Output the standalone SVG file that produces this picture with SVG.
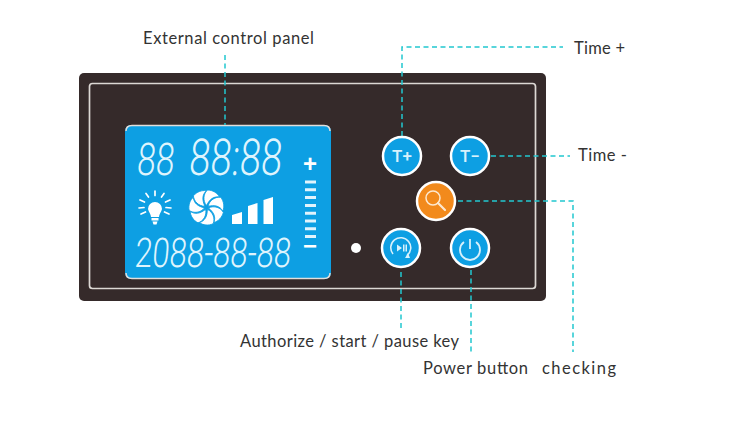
<svg xmlns="http://www.w3.org/2000/svg" width="750" height="424" viewBox="0 0 750 424">
<style>
text{font-family:"Lato","Liberation Sans",sans-serif}
.lbl{font-size:16.5px;fill:#333;lengthAdjust:spacing}
.c{fill:none;stroke:#22c8d0;stroke-width:1.5;stroke-dasharray:5 3.500}
.btn{stroke:#fff;stroke-width:2.500;fill:#0d9fe3}
.seg{font-family:"Roboto","Liberation Sans",sans-serif;fill:#dff4fd;font-weight:300}
.ico{font-family:"Roboto","Liberation Sans",sans-serif;fill:#d8f1fc;font-weight:500;font-size:17px;text-anchor:middle}
.w{fill:#fff}
.g{fill:none;stroke:#fff;stroke-linecap:round}
.sym{font-family:"Liberation Sans",sans-serif;font-size:24px;font-weight:700;fill:#fff;text-anchor:middle}
</style>
<defs>
<path id="blade" d="M0 -2C-4 -7-3 -14 1 -17.500C6 -17.500 11 -14.500 13 -10.500C7 -11.500 3 -8 0 -2z" fill="#fff" stroke="#0d9fe3" stroke-width="0.800"/>
</defs>
<rect width="750" height="424" fill="#fff"/>
<g id="panel">
<rect x="79" y="73" width="467" height="228" rx="5" fill="#352a2a"/>
<rect x="89.500" y="83.500" width="446" height="205" rx="3" fill="none" stroke="#dcd8d4" stroke-width="1.700"/>
</g>
<g id="lcd">
<rect x="125" y="125" width="206" height="154" rx="6" fill="#0d9fe3"/>
<path d="M126 131Q126 125.500 132 125.500H324Q330 125.500 330 131M126 273Q126 278.500 132 278.500H324Q330 278.500 330 273" fill="none" stroke="#e2dedb" stroke-width="1.500"/>
<text class="seg" transform="translate(136 175) skewX(-5) scale(.75 1)" font-size="45">88</text>
<text class="seg" transform="translate(188 175) skewX(-5) scale(.75 1)" font-size="51">88:88</text>
<text class="seg" transform="translate(134 267) skewX(-5) scale(.76 1)" font-size="41">2088-88-88</text>
<text class="sym" x="310" y="172">+</text>
<text class="sym" x="310" y="254">−</text>
<path d="M305 182h11M305 189.800h11M305 197.600h11M305 205.400h11M305 213.200h11M305 221h11M305 228.800h11M305 236.600h11" stroke="#fff" stroke-width="3" opacity="0.880" fill="none"/>
<path class="w" d="M148 209a7 7 0 1 1 14 0c-.5 3-3 5-3 8h-8c0-3-2.500-5-3-8zM151.500 218h7v2.500h-7zM152.500 221.500h5l-1 3h-3z"/>
<path class="g" stroke-width="1.700" d="M155 191v4.500M146 193.500l2.500 3.500M164 193.500l-2.500 3.500M140 200l4.500 2M170 200l-4.500 2M139 208l5 -.5M171 208l-5 -.5M141 214l4.500-2M169 214l-4.500-2"/>
<g transform="translate(206.500 207.500)">
<use href="#blade"/>
<use href="#blade" transform="rotate(51.400)"/>
<use href="#blade" transform="rotate(102.900)"/>
<use href="#blade" transform="rotate(154.300)"/>
<use href="#blade" transform="rotate(205.700)"/>
<use href="#blade" transform="rotate(257.100)"/>
<use href="#blade" transform="rotate(308.600)"/>
</g>
<path class="w" d="M232 215l10-3v12h-10zM248 206l9.500-3v21h-9.500zM263.500 200l9.500-3v27h-9.500z"/>
</g>
<g id="led"><circle cx="356" cy="248" r="5" fill="#fff"/></g>
<g id="connectors">
<path class="c" d="M225 55V125"/>
<path class="c" d="M402 136V47H563"/>
<path class="c" d="M491 156H570"/>
<path class="c" d="M458 201H573V352"/>
<path class="c" d="M401 272V330"/>
<path class="c" d="M471 270V352"/>
</g>
<g id="btn-tplus"><circle class="btn" cx="402" cy="156" r="19"/>
<text class="ico" x="402" y="162">T+</text></g>
<g id="btn-tminus"><circle class="btn" cx="470" cy="156" r="19"/>
<text class="ico" x="470" y="162">T−</text></g>
<g id="btn-search"><circle class="btn" cx="436" cy="201" r="19" style="fill:#f28a1c"/>
<circle cx="433" cy="198" r="7" fill="none" stroke="#fde8cf" stroke-width="1.500"/><path d="M438 203l7 7" stroke="#fde8cf" stroke-width="2.200" stroke-linecap="round"/></g>
<g id="btn-play"><circle class="btn" cx="401" cy="248" r="19"/>
<path d="M393 254a10 10 0 1 1 14 1.500" fill="none" stroke="#d8f1fc" stroke-width="1.600"/>
<path d="M405 258l3-5 2 5z" fill="#d8f1fc"/>
<path d="M397 244.500l5 3.500-5 3.500zM403 244.500h1.500v7h-1.500zM405.500 244.500h1.500v7h-1.500z" fill="#d8f1fc"/></g>
<g id="btn-power"><circle class="btn" cx="470" cy="248" r="19"/>
<path d="M464 242a10 10 0 1 0 12 0" fill="none" stroke="#d8f1fc" stroke-width="1.800"/>
<path d="M470 239v10" stroke="#d8f1fc" stroke-width="1.800"/></g>
<g id="labels">
<text class="lbl" x="143" y="44" textLength="171">External control panel</text>
<text class="lbl" x="574" y="54" textLength="51">Time +</text>
<text class="lbl" x="578" y="161" textLength="49">Time -</text>
<text class="lbl" x="240" y="347" textLength="219">Authorize / start / pause key</text>
<text class="lbl" x="423" y="374" textLength="105">Power button</text>
<text class="lbl" x="542" y="374" textLength="74">checking</text>
</g>
</svg>
